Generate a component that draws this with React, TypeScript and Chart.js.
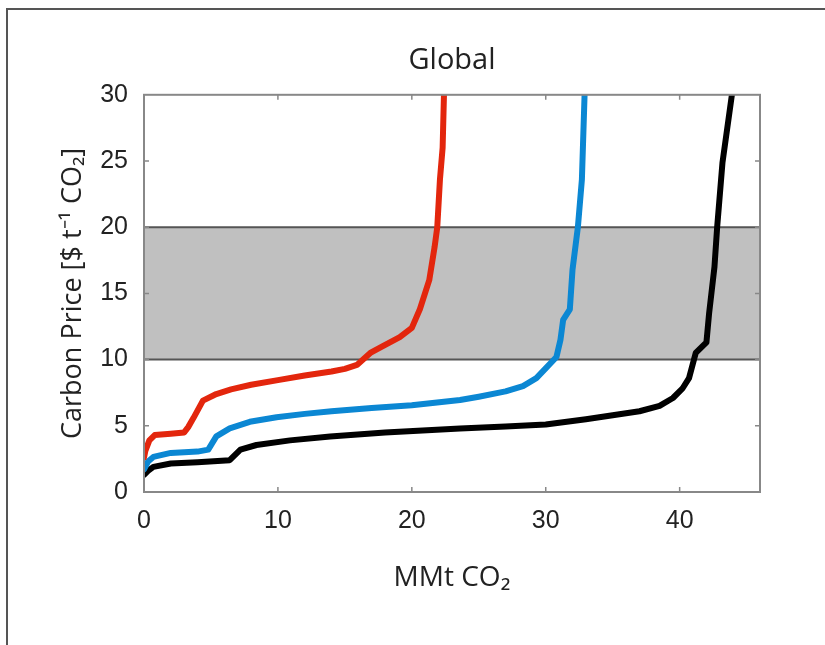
import React, { useEffect, useRef } from "react";
import { Chart, registerables } from "chart.js";

Chart.register(...registerables);

const chartTitle = "Global";
const xAxisTitle = "MMt CO\u2082";
const yAxisTitle = "Carbon Price [$ t\u207B\u00B9 CO\u2082]";

const xMin = 0;
const xMax = 46;
const xStep = 10;
const yMin = 0;
const yMax = 30;
const yStep = 5;

const bandLow = 10;
const bandHigh = 20;

const redX = [0, 0.1, 0.4, 0.8, 2.0, 3.0, 3.3, 3.7, 4.4, 5.4, 6.5, 8, 10, 12, 14, 15, 15.9, 16.9, 17.8, 19.1, 20, 20.6, 21.3, 21.7, 21.9, 22.1, 22.3, 22.4];
const redY = [2.6, 3.1, 3.9, 4.3, 4.4, 4.5, 4.9, 5.6, 6.9, 7.4, 7.75, 8.1, 8.45, 8.8, 9.1, 9.3, 9.6, 10.5, 11.0, 11.7, 12.4, 13.8, 16, 18.5, 20, 23.6, 26, 30];

const blueX = [0, 0.3, 0.7, 2, 4, 4.8, 5.4, 6.4, 7.9, 9.9, 12, 14, 17, 20, 23.6, 25, 27, 28.3, 29.3, 30.1, 30.8, 31.1, 31.3, 31.8, 32.0, 32.4, 32.7, 32.9];
const blueY = [1.7, 2.3, 2.65, 2.95, 3.05, 3.2, 4.2, 4.8, 5.3, 5.65, 5.9, 6.1, 6.35, 6.55, 6.95, 7.2, 7.6, 8.0, 8.6, 9.45, 10.2, 11.5, 13, 13.8, 16.8, 20, 23.6, 30];

const blackX = [0, 0.3, 0.7, 2, 4, 6.4, 7.2, 8.4, 10.9, 13.9, 18, 23.6, 27, 30, 33, 35, 37, 38.5, 39.5, 40.2, 40.7, 41.2, 42.0, 42.2, 42.6, 42.8, 43.2, 43.9];
const blackY = [1.3, 1.6, 1.9, 2.15, 2.25, 2.4, 3.2, 3.55, 3.9, 4.2, 4.5, 4.8, 4.95, 5.1, 5.5, 5.8, 6.1, 6.5, 7.1, 7.8, 8.6, 10.5, 11.3, 13.5, 17, 20, 24.9, 30];

const toPoints = (xs: number[], ys: number[]) => xs.map((x, i) => ({ x, y: ys[i] }));

const decorPlugin = {
  id: "decor",
  beforeDraw(chart: any) {
    const ctx = chart.ctx;
    ctx.save();
    ctx.fillStyle = "#ffffff";
    ctx.fillRect(0, 0, chart.width, chart.height);
    ctx.strokeStyle = "#555555";
    ctx.lineWidth = 2;
    ctx.beginPath();
    ctx.moveTo(7, chart.height);
    ctx.lineTo(7, 9);
    ctx.lineTo(chart.width, 9);
    ctx.stroke();
    ctx.restore();
  },
  beforeDatasetsDraw(chart: any) {
    const { ctx, chartArea } = chart;
    const ys = chart.scales.y;
    const yHi = ys.getPixelForValue(bandHigh);
    const yLo = ys.getPixelForValue(bandLow);
    ctx.save();
    ctx.fillStyle = "#c0c0c0";
    ctx.fillRect(chartArea.left, yHi, chartArea.right - chartArea.left, yLo - yHi);
    ctx.strokeStyle = "#555555";
    ctx.lineWidth = 2;
    ctx.beginPath();
    ctx.moveTo(chartArea.left, yHi);
    ctx.lineTo(chartArea.right, yHi);
    ctx.moveTo(chartArea.left, yLo);
    ctx.lineTo(chartArea.right, yLo);
    ctx.stroke();
    ctx.restore();
  },
  afterDatasetsDraw(chart: any) {
    const { ctx, chartArea } = chart;
    const xs = chart.scales.x;
    const ys = chart.scales.y;
    const tl = 5;
    ctx.save();
    ctx.strokeStyle = "#888888";
    ctx.lineWidth = 2;
    ctx.strokeRect(chartArea.left, chartArea.top, chartArea.right - chartArea.left, chartArea.bottom - chartArea.top);
    ctx.lineWidth = 1.5;
    ctx.beginPath();
    xs.ticks.forEach((t: any) => {
      const px = xs.getPixelForValue(t.value);
      if (px <= chartArea.left + 1 || px >= chartArea.right - 1) return;
      ctx.moveTo(px, chartArea.bottom);
      ctx.lineTo(px, chartArea.bottom - tl);
      ctx.moveTo(px, chartArea.top);
      ctx.lineTo(px, chartArea.top + tl);
    });
    ys.ticks.forEach((t: any) => {
      const py = ys.getPixelForValue(t.value);
      if (py <= chartArea.top + 1 || py >= chartArea.bottom - 1) return;
      ctx.moveTo(chartArea.left, py);
      ctx.lineTo(chartArea.left + tl, py);
      ctx.moveTo(chartArea.right, py);
      ctx.lineTo(chartArea.right - tl, py);
    });
    ctx.stroke();
    ctx.restore();
  },
};

export default function App() {
  const canvasRef = useRef<HTMLCanvasElement | null>(null);

  useEffect(() => {
    if (!canvasRef.current) return;
    const lineDs = (label: string, xs: number[], ys: number[], color: string) => ({
      label,
      data: toPoints(xs, ys),
      borderColor: color,
      backgroundColor: color,
      borderWidth: 6,
      pointRadius: 0,
      tension: 0,
      fill: false,
      borderJoinStyle: "round" as const,
      borderCapStyle: "round" as const,
    });
    const tickFont = { family: "'Liberation Sans', Arial, sans-serif", size: 25 };
    const chart = new Chart(canvasRef.current, {
      type: "line",
      data: {
        datasets: [
          lineDs("Red", redX, redY, "#e3260d"),
          lineDs("Blue", blueX, blueY, "#0b87d3"),
          lineDs("Black", blackX, blackY, "#000000"),
        ],
      },
      options: {
        animation: false,
        responsive: false,
        layout: { padding: { left: 57, right: 65, top: 0, bottom: 50 } },
        plugins: {
          legend: { display: false },
          tooltip: { enabled: false },
          title: {
            display: true,
            text: chartTitle,
            fullSize: false,
            color: "#222222",
            font: { family: "'Open Sans', sans-serif", size: 29, weight: "normal" },
            padding: { top: 43, bottom: 17 },
          },
        },
        scales: {
          x: {
            type: "linear",
            min: xMin,
            max: xMax,
            grid: { display: false, drawTicks: false },
            border: { display: false },
            ticks: { stepSize: xStep, includeBounds: false, padding: 14, color: "#222222", font: tickFont, maxRotation: 0 },
            title: { display: true, text: xAxisTitle, color: "#222222", font: { family: "'Open Sans', sans-serif", size: 28 }, padding: 0 },
            afterFit: (scale: any) => {
              scale.height = 103;
            },
          },
          y: {
            type: "linear",
            min: yMin,
            max: yMax,
            grid: { display: false, drawTicks: false },
            border: { display: false },
            ticks: { stepSize: yStep, padding: 16, color: "#222222", font: tickFont },
            title: { display: true, text: yAxisTitle, color: "#222222", font: { family: "'Open Sans', sans-serif", size: 27 }, padding: 0 },
            afterFit: (scale: any) => {
              scale.width = 87;
            },
          },
        },
      },
      plugins: [decorPlugin],
    });
    return () => chart.destroy();
  }, []);

  return (
    <div style={{ position: "fixed", left: 0, top: 0, width: 825, height: 645, background: "#fff" }}>
      <canvas ref={canvasRef} width={825} height={645} style={{ display: "block", width: 825, height: 645 }} />
    </div>
  );
}
